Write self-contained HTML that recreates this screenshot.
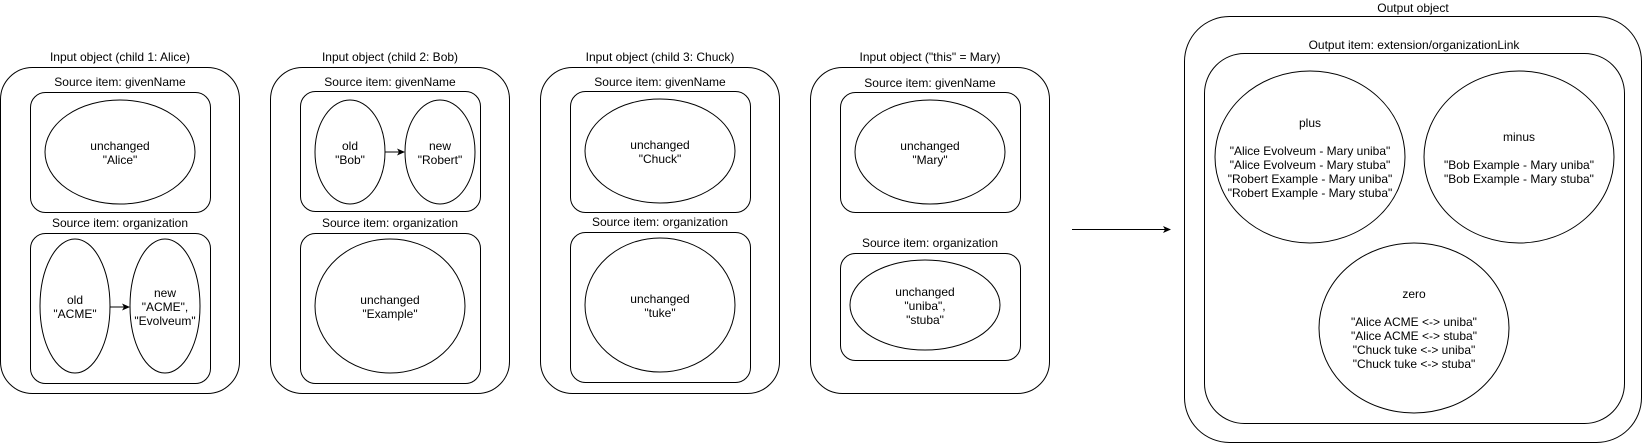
<!DOCTYPE html>
<html><head><meta charset="utf-8"><style>
html,body{margin:0;padding:0;background:#fff;}
svg{display:block;}
text{font-family:"Liberation Sans",Arial,sans-serif;font-size:12px;fill:#000;text-anchor:middle;}
.s{fill:none;stroke:#000;stroke-width:1;}
</style></head><body>
<svg width="1645" height="444" viewBox="0 0 1645 444" xmlns="http://www.w3.org/2000/svg">
<defs><marker id="a" markerWidth="8" markerHeight="8" refX="7" refY="4" orient="auto" markerUnits="userSpaceOnUse"><path d="M0,0.5 L8,4 L0,7.5 L2,4 Z" fill="#000"/></marker></defs>

<!-- Box 1 -->
<text x="120" y="61">Input object (child 1: Alice)</text>
<rect class="s" x="0.5" y="67.5" width="239" height="326" rx="32"/>
<text x="120" y="86">Source item: givenName</text>
<rect class="s" x="30.5" y="92.5" width="180" height="120" rx="15"/>
<ellipse class="s" cx="120" cy="152" rx="75" ry="52"/>
<text x="120" y="150">unchanged</text><text x="120" y="164">"Alice"</text>
<text x="120" y="227">Source item: organization</text>
<rect class="s" x="30.5" y="233.5" width="180" height="150" rx="15"/>
<ellipse class="s" cx="75" cy="306" rx="35" ry="67"/>
<ellipse class="s" cx="165" cy="306" rx="35" ry="67"/>
<text x="75" y="304">old</text><text x="75" y="318">"ACME"</text>
<text x="165" y="297">new</text><text x="165" y="311">"ACME",</text><text x="165" y="325">"Evolveum"</text>
<line class="s" x1="110" y1="307" x2="129" y2="307" marker-end="url(#a)"/>

<!-- Box 2 -->
<text x="390" y="61">Input object (child 2: Bob)</text>
<rect class="s" x="270.5" y="67.5" width="239" height="326" rx="32"/>
<text x="390" y="86">Source item: givenName</text>
<rect class="s" x="300.5" y="91.5" width="180" height="120" rx="15"/>
<ellipse class="s" cx="350" cy="152" rx="35" ry="52"/>
<ellipse class="s" cx="440" cy="152" rx="35" ry="52"/>
<text x="350" y="150">old</text><text x="350" y="164">"Bob"</text>
<text x="440" y="150">new</text><text x="440" y="164">"Robert"</text>
<line class="s" x1="385" y1="152" x2="404" y2="152" marker-end="url(#a)"/>
<text x="390" y="227">Source item: organization</text>
<rect class="s" x="300.5" y="233.5" width="180" height="150" rx="15"/>
<ellipse class="s" cx="390" cy="306" rx="75" ry="67"/>
<text x="390" y="304">unchanged</text><text x="390" y="318">"Example"</text>

<!-- Box 3 -->
<text x="660" y="61">Input object (child 3: Chuck)</text>
<rect class="s" x="540.5" y="67.5" width="239" height="326" rx="32"/>
<text x="660" y="86">Source item: givenName</text>
<rect class="s" x="570.5" y="91.5" width="180" height="121" rx="15"/>
<ellipse class="s" cx="660" cy="151" rx="75" ry="52"/>
<text x="660" y="149">unchanged</text><text x="660" y="163">"Chuck"</text>
<text x="660" y="226">Source item: organization</text>
<rect class="s" x="570.5" y="232.5" width="180" height="150" rx="15"/>
<ellipse class="s" cx="660" cy="305" rx="75" ry="67"/>
<text x="660" y="303">unchanged</text><text x="660" y="317">"tuke"</text>

<!-- Box 4 -->
<text x="930" y="61">Input object ("this" = Mary)</text>
<rect class="s" x="810.5" y="67.5" width="239" height="326" rx="32"/>
<text x="930" y="87">Source item: givenName</text>
<rect class="s" x="840.5" y="92.5" width="180" height="120" rx="15"/>
<ellipse class="s" cx="930" cy="152" rx="75" ry="52"/>
<text x="930" y="150">unchanged</text><text x="930" y="164">"Mary"</text>
<text x="930" y="247">Source item: organization</text>
<rect class="s" x="840.5" y="253.5" width="180" height="107" rx="15"/>
<ellipse class="s" cx="925" cy="305" rx="75" ry="45"/>
<text x="925" y="296">unchanged</text><text x="925" y="310">"uniba",</text><text x="925" y="324">"stuba"</text>

<!-- Arrow -->
<line class="s" x1="1072" y1="229.5" x2="1170" y2="229.5" marker-end="url(#a)"/>

<!-- Output -->
<text x="1413" y="12">Output object</text>
<rect class="s" x="1184.5" y="16.5" width="457" height="426" rx="45"/>
<text x="1414" y="49">Output item: extension/organizationLink</text>
<rect class="s" x="1204.5" y="53.5" width="420" height="370" rx="40"/>
<ellipse class="s" cx="1310" cy="157" rx="95" ry="86"/>
<text x="1310" y="127">plus</text>
<text x="1310" y="155">"Alice Evolveum - Mary uniba"</text>
<text x="1310" y="169">"Alice Evolveum - Mary stuba"</text>
<text x="1310" y="183">"Robert Example - Mary uniba"</text>
<text x="1310" y="197">"Robert Example - Mary stuba"</text>
<ellipse class="s" cx="1519" cy="157" rx="95" ry="86"/>
<text x="1519" y="141">minus</text>
<text x="1519" y="169">"Bob Example - Mary uniba"</text>
<text x="1519" y="183">"Bob Example - Mary stuba"</text>
<ellipse class="s" cx="1414" cy="328" rx="95" ry="85"/>
<text x="1414" y="298">zero</text>
<text x="1414" y="326">"Alice ACME &lt;-&gt; uniba"</text>
<text x="1414" y="340">"Alice ACME &lt;-&gt; stuba"</text>
<text x="1414" y="354">"Chuck tuke &lt;-&gt; uniba"</text>
<text x="1414" y="368">"Chuck tuke &lt;-&gt; stuba"</text>
</svg>
</body></html>
